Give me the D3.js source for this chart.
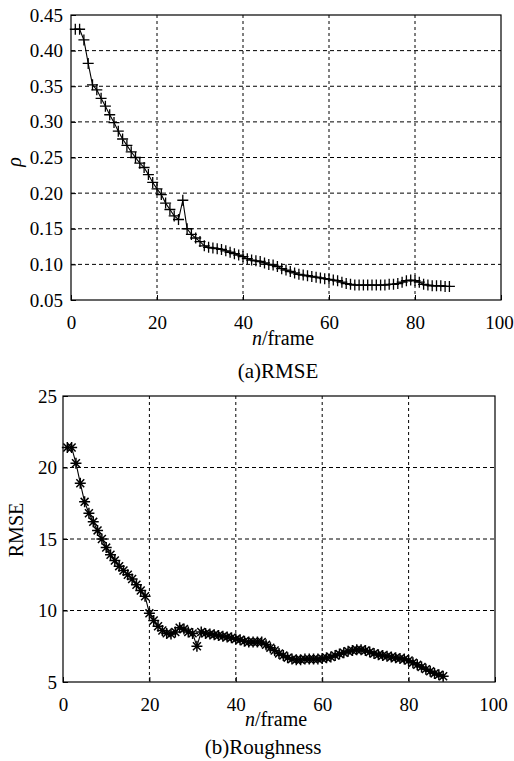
<!DOCTYPE html>
<html>
<head>
<meta charset="utf-8">
<script src="https://cdn.jsdelivr.net/npm/d3@7"></script>
<style>
  html, body { margin: 0; padding: 0; background: #fff; }
  svg text, svg tspan { font-family: "Liberation Serif", "Times New Roman", serif !important; fill: #000; }
</style>
</head>
<body>
<svg id="chart" width="514" height="761"></svg>
<script>
// frames 1..88
const frames = d3.range(1, 89);

// (a) rho per frame
const rhoValues = [
  0.430, 0.430, 0.415, 0.382, 0.352, 0.345, 0.333, 0.322, 0.310, 0.299,
  0.287, 0.276, 0.267, 0.258, 0.250, 0.242, 0.236, 0.226, 0.215, 0.206,
  0.198, 0.186, 0.177, 0.168, 0.163, 0.190, 0.150, 0.142, 0.137, 0.132,
  0.126, 0.124, 0.123, 0.122, 0.121, 0.119, 0.117, 0.115, 0.113, 0.111,
  0.108, 0.106, 0.105, 0.104, 0.102, 0.100, 0.099, 0.097, 0.094, 0.092,
  0.090, 0.088, 0.086, 0.085, 0.084, 0.083, 0.082, 0.081, 0.080, 0.079,
  0.078, 0.077, 0.075, 0.073, 0.072, 0.071, 0.071, 0.071, 0.071, 0.071,
  0.071, 0.071, 0.071, 0.072, 0.072, 0.073, 0.075, 0.077, 0.078, 0.077,
  0.075, 0.072, 0.071, 0.070, 0.070, 0.070, 0.069, 0.069
];

// (b) RMSE per frame
const rmseValues = [
  21.4, 21.4, 20.3, 18.9, 17.6, 16.8, 16.2, 15.6, 15.0, 14.4,
  13.9, 13.5, 13.1, 12.8, 12.5, 12.2, 11.8, 11.4, 11.0, 9.8,
  9.3, 8.9, 8.6, 8.4, 8.35, 8.5, 8.8, 8.7, 8.5, 8.4,
  7.5, 8.5, 8.4, 8.35, 8.3, 8.25, 8.2, 8.15, 8.1, 8.0,
  7.95, 7.85, 7.8, 7.8, 7.8, 7.8, 7.6, 7.4, 7.2, 7.0,
  6.85, 6.7, 6.6, 6.55, 6.55, 6.6, 6.6, 6.6, 6.6, 6.65,
  6.7, 6.75, 6.85, 6.95, 7.05, 7.15, 7.2, 7.25, 7.25, 7.2,
  7.1, 7.0, 6.9, 6.85, 6.8, 6.75, 6.7, 6.65, 6.6, 6.5,
  6.35, 6.2, 6.05, 5.9, 5.75, 5.6, 5.5, 5.4
];

const xTicks = [0, 20, 40, 60, 80, 100];
const rhoTicks = [0.05, 0.10, 0.15, 0.20, 0.25, 0.30, 0.35, 0.40, 0.45];
const rmseTicks = [5, 10, 15, 20, 25];

const FONT = '"Liberation Serif", "Times New Roman", serif';
const svg = d3.select('#chart');

function drawPanel(cfg) {
  const x = d3.scaleLinear().domain([0, 100]).range([cfg.left, cfg.right]);
  const y = d3.scaleLinear().domain(cfg.yDomain).range([cfg.bottom, cfg.top]);
  const g = svg.append('g');

  // dashed grid
  g.append('g').selectAll('line')
    .data(xTicks.slice(1, -1))
    .join('line')
    .attr('x1', d => x(d)).attr('x2', d => x(d))
    .attr('y1', cfg.top).attr('y2', cfg.bottom)
    .attr('stroke', '#000').attr('stroke-width', 1)
    .attr('stroke-dasharray', '3,3');
  g.append('g').selectAll('line')
    .data(cfg.yTicks.slice(1, -1))
    .join('line')
    .attr('x1', cfg.left).attr('x2', cfg.right)
    .attr('y1', d => y(d)).attr('y2', d => y(d))
    .attr('stroke', '#000').attr('stroke-width', 1)
    .attr('stroke-dasharray', '4,3');

  // frame box
  g.append('rect')
    .attr('x', cfg.left).attr('y', cfg.top)
    .attr('width', cfg.right - cfg.left).attr('height', cfg.bottom - cfg.top)
    .attr('fill', 'none').attr('stroke', '#000').attr('stroke-width', 1.2);

  // axes (inward ticks)
  const xAxis = d3.axisBottom(x).tickValues(xTicks).tickSize(-5).tickPadding(16)
    .tickFormat(d3.format('d'));
  g.append('g').attr('transform', `translate(0,${cfg.bottom})`).call(xAxis)
    .attr('font-family', FONT).attr('font-size', 19)
    .call(a => a.select('.domain').remove())
    .call(a => a.selectAll('text').style('font-family', FONT).style('font-size', '19px')
      .attr('dx', d => d === 100 ? -2 : 0));

  const yAxis = d3.axisLeft(y).tickValues(cfg.yTicks).tickSize(-5).tickPadding(cfg.yPad)
    .tickFormat(cfg.yFormat);
  g.append('g').attr('transform', `translate(${cfg.left},0)`).call(yAxis)
    .attr('font-family', FONT).attr('font-size', 19)
    .call(a => a.select('.domain').remove())
    .call(a => a.selectAll('text').style('font-family', FONT).style('font-size', '19px'));

  // line
  const pts = frames.map((f, i) => [f, cfg.values[i]]);
  g.append('path')
    .datum(pts)
    .attr('fill', 'none').attr('stroke', '#000').attr('stroke-width', 1.1)
    .attr('d', d3.line().x(d => x(d[0])).y(d => y(d[1])));

  // markers
  const s = cfg.markerSize / 2;
  const k = s * 0.72;
  const markerPath = cfg.marker === 'star'
    ? `M${-s},0H${s}M0,${-s}V${s}M${-k},${-k}L${k},${k}M${-k},${k}L${k},${-k}`
    : `M${-s},0H${s}M0,${-s}V${s}`;
  g.append('g').selectAll('path')
    .data(pts)
    .join('path')
    .attr('transform', d => `translate(${x(d[0])},${y(d[1])})`)
    .attr('d', markerPath)
    .attr('fill', 'none').attr('stroke', '#000').attr('stroke-width', cfg.markerStroke);

  // x label: n/frame
  const xl = g.append('text')
    .attr('x', (cfg.left + cfg.right) / 2 - 3).attr('y', cfg.xLabelY)
    .attr('text-anchor', 'middle').style('font-family', FONT).style('font-size', '20px');
  xl.append('tspan').attr('font-style', 'italic').text('n');
  xl.append('tspan').text('/frame');

  // caption
  g.append('text')
    .attr('x', cfg.captionX).attr('y', cfg.captionY)
    .attr('text-anchor', 'middle').style('font-family', FONT).style('font-size', '21px')
    .text(cfg.caption);

  // y label
  g.append('text')
    .attr('transform', `translate(${cfg.yLabelX},${cfg.yLabelY}) rotate(-90)`)
    .attr('text-anchor', 'middle')
    .style('font-family', FONT).style('font-size', cfg.yLabelSize + 'px')
    .attr('font-style', cfg.yLabelItalic ? 'italic' : 'normal')
    .text(cfg.yLabel);
}

drawPanel({
  left: 71, right: 501, top: 15, bottom: 300,
  yDomain: [0.05, 0.45], yTicks: rhoTicks, yFormat: d3.format('.2f'), yPad: 8,
  values: rhoValues, marker: 'plus', markerSize: 11, markerStroke: 1.3,
  xLabelY: 345, caption: '(a)RMSE', captionX: 278, captionY: 378,
  yLabel: 'ρ', yLabelX: 21, yLabelY: 162, yLabelSize: 20, yLabelItalic: true
});

drawPanel({
  left: 63, right: 495, top: 396, bottom: 682,
  yDomain: [5, 25], yTicks: rmseTicks, yFormat: d3.format('d'), yPad: 6,
  values: rmseValues, marker: 'star', markerSize: 11, markerStroke: 1.5,
  xLabelY: 726, caption: '(b)Roughness', captionX: 263, captionY: 754,
  yLabel: 'RMSE', yLabelX: 23, yLabelY: 530, yLabelSize: 20, yLabelItalic: false
});
</script>
</body>
</html>
